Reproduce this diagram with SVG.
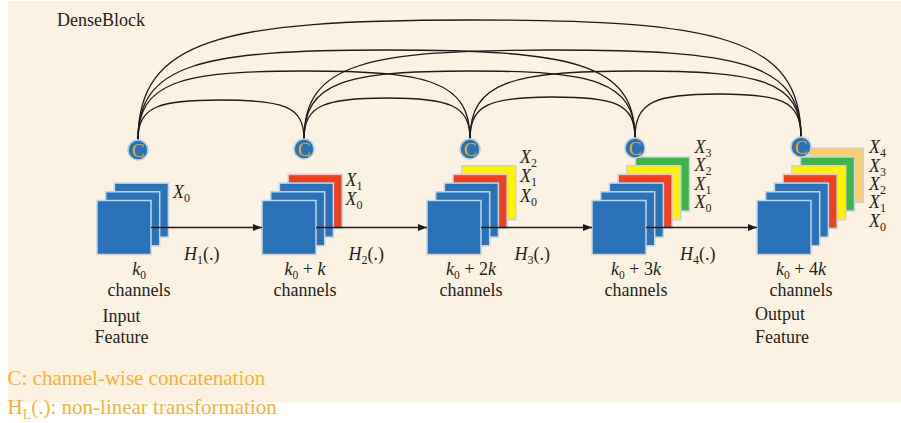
<svg xmlns="http://www.w3.org/2000/svg" width="901" height="423" viewBox="0 0 901 423">
<defs>
<style>
.bg{fill:#fcf2e4}
.sq{stroke:#c6d3e0;stroke-width:1.5}
.b{fill:#2a72b8}.r{fill:#ee4124}.y{fill:#fff200}.g{fill:#3db54a}.o{fill:#fdce6b}
.cc{fill:#2a72b8;stroke:#b9cde0;stroke-width:1.5}
.ct{font-family:"Liberation Serif",serif;font-size:19px;fill:#f2a91c;text-anchor:middle}
.t{font-family:"Liberation Serif",serif;font-size:18px;fill:#231f20}
.m{text-anchor:middle}
.i{font-style:italic}
.arc{fill:none;stroke:#1c1a1a;stroke-width:1.3}
.ln{fill:none;stroke:#1c1a1a;stroke-width:1.3}
.leg{font-family:"Liberation Serif",serif;font-size:21px;fill:#fbb034}
</style>
<marker id="ah" markerUnits="userSpaceOnUse" markerWidth="10" markerHeight="8" refX="9" refY="4" orient="auto">
<path d="M0,0.5 L9,4 L0,7.5 z" fill="#1c1a1a"/>
</marker>
</defs>
<rect class="bg" x="8" y="1" width="893" height="401.5"/>
<text class="t" x="57" y="26">DenseBlock</text>

<g id="stack1">
<rect class="sq b" x="114.4" y="183.1" width="54" height="54"/>
<rect class="sq b" x="105.7" y="191.8" width="54" height="54"/>
<rect class="sq b" x="97" y="200.5" width="54" height="54"/>
<text class="t" x="173" y="198"><tspan class="i">X</tspan><tspan font-size="12" dy="4">0</tspan></text>
<text class="t m" x="139" y="275"><tspan class="i">k</tspan><tspan font-size="11.5" dy="3.5">0</tspan></text>
<text class="t m" x="139" y="296">channels</text>
<text class="t m" x="121.5" y="322">Input</text>
<text class="t m" x="121.5" y="343">Feature</text>
</g>

<g id="stack2">
<rect class="sq r" x="288.1" y="174.4" width="54" height="54"/>
<rect class="sq b" x="279.4" y="183.1" width="54" height="54"/>
<rect class="sq b" x="270.7" y="191.8" width="54" height="54"/>
<rect class="sq b" x="262" y="200.5" width="54" height="54"/>
<text class="t" x="345.5" y="186"><tspan class="i">X</tspan><tspan font-size="12" dy="4">1</tspan></text>
<text class="t" x="345.5" y="205"><tspan class="i">X</tspan><tspan font-size="12" dy="4">0</tspan></text>
<text class="t m" x="305" y="275"><tspan class="i">k</tspan><tspan font-size="11.5" dy="3.5">0</tspan><tspan dy="-3.5"> + </tspan><tspan class="i">k</tspan></text>
<text class="t m" x="305" y="296">channels</text>
</g>

<g id="stack3">
<rect class="sq y" x="461.8" y="165.7" width="54" height="54"/>
<rect class="sq r" x="453.1" y="174.4" width="54" height="54"/>
<rect class="sq b" x="444.4" y="183.1" width="54" height="54"/>
<rect class="sq b" x="435.7" y="191.8" width="54" height="54"/>
<rect class="sq b" x="427" y="200.5" width="54" height="54"/>
<text class="t" x="520" y="163"><tspan class="i">X</tspan><tspan font-size="12" dy="4">2</tspan></text>
<text class="t" x="520" y="182"><tspan class="i">X</tspan><tspan font-size="12" dy="4">1</tspan></text>
<text class="t" x="520" y="201.5"><tspan class="i">X</tspan><tspan font-size="12" dy="4">0</tspan></text>
<text class="t m" x="471" y="275"><tspan class="i">k</tspan><tspan font-size="11.5" dy="3.5">0</tspan><tspan dy="-3.5"> + 2</tspan><tspan class="i">k</tspan></text>
<text class="t m" x="471" y="296">channels</text>
</g>

<g id="stack4">
<rect class="sq g" x="635.5" y="157" width="54" height="54"/>
<rect class="sq y" x="626.8" y="165.7" width="54" height="54"/>
<rect class="sq r" x="618.1" y="174.4" width="54" height="54"/>
<rect class="sq b" x="609.4" y="183.1" width="54" height="54"/>
<rect class="sq b" x="600.7" y="191.8" width="54" height="54"/>
<rect class="sq b" x="592" y="200.5" width="54" height="54"/>
<text class="t" x="694.5" y="153"><tspan class="i">X</tspan><tspan font-size="12" dy="4">3</tspan></text>
<text class="t" x="694.5" y="171"><tspan class="i">X</tspan><tspan font-size="12" dy="4">2</tspan></text>
<text class="t" x="694.5" y="189.5"><tspan class="i">X</tspan><tspan font-size="12" dy="4">1</tspan></text>
<text class="t" x="694.5" y="208"><tspan class="i">X</tspan><tspan font-size="12" dy="4">0</tspan></text>
<text class="t m" x="636" y="275"><tspan class="i">k</tspan><tspan font-size="11.5" dy="3.5">0</tspan><tspan dy="-3.5"> + 3</tspan><tspan class="i">k</tspan></text>
<text class="t m" x="636" y="296">channels</text>
</g>

<g id="stack5">
<rect class="sq o" x="809.2" y="148.3" width="54" height="54"/>
<rect class="sq g" x="800.5" y="157" width="54" height="54"/>
<rect class="sq y" x="791.8" y="165.7" width="54" height="54"/>
<rect class="sq r" x="783.1" y="174.4" width="54" height="54"/>
<rect class="sq b" x="774.4" y="183.1" width="54" height="54"/>
<rect class="sq b" x="765.7" y="191.8" width="54" height="54"/>
<rect class="sq b" x="757" y="200.5" width="54" height="54"/>
<text class="t" x="869" y="153"><tspan class="i">X</tspan><tspan font-size="12" dy="4">4</tspan></text>
<text class="t" x="869" y="171.5"><tspan class="i">X</tspan><tspan font-size="12" dy="4">3</tspan></text>
<text class="t" x="869" y="189.5"><tspan class="i">X</tspan><tspan font-size="12" dy="4">2</tspan></text>
<text class="t" x="869" y="208"><tspan class="i">X</tspan><tspan font-size="12" dy="4">1</tspan></text>
<text class="t" x="869" y="226.5"><tspan class="i">X</tspan><tspan font-size="12" dy="4">0</tspan></text>
<text class="t m" x="801" y="275"><tspan class="i">k</tspan><tspan font-size="11.5" dy="3.5">0</tspan><tspan dy="-3.5"> + 4</tspan><tspan class="i">k</tspan></text>
<text class="t m" x="801" y="296">channels</text>
<text class="t" x="755" y="320">Output</text>
<text class="t" x="755" y="343">Feature</text>
</g>

<g id="connectors">
<path class="arc" d="M138,140 C138,106 159,100 221,100 S304,106 304,139"/>
<path class="arc" d="M304,139 C304,105 325,98 387,98 S470,105 470,139"/>
<path class="arc" d="M470,139 C470,104 491,97 552.5,97 S635,103 635,138"/>
<path class="arc" d="M635,138 C635,101 656,94 718,94 S801,100 801,137"/>
<path class="arc" d="M138,140 C138,82 179.5,71 304,71 S470,81 470,139"/>
<path class="arc" d="M304,139 C304,82 345,71 469.5,71 S635,81 635,138"/>
<path class="arc" d="M470,139 C470,82 511,71 635.5,71 S801,80 801,137"/>
<path class="arc" d="M138,140 C138,64 200,50 386.5,50 S635,63 635,138"/>
<path class="arc" d="M304,139 C304,63 366,50 552.5,50 S801,62 801,137"/>
<path class="arc" d="M138,140 C138,39 221,20 469.5,20 S801,37 801,137"/>
<line class="ln" x1="151" y1="227.5" x2="262" y2="227.5" marker-end="url(#ah)"/>
<line class="ln" x1="316" y1="227.5" x2="427" y2="227.5" marker-end="url(#ah)"/>
<line class="ln" x1="481" y1="227.5" x2="592" y2="227.5" marker-end="url(#ah)"/>
<line class="ln" x1="646" y1="227.5" x2="757" y2="227.5" marker-end="url(#ah)"/>
<text class="t" x="184" y="260"><tspan class="i">H</tspan><tspan font-size="12" dy="4">1</tspan><tspan dy="-4">(.)</tspan></text>
<text class="t" x="348.5" y="260"><tspan class="i">H</tspan><tspan font-size="12" dy="4">2</tspan><tspan dy="-4">(.)</tspan></text>
<text class="t" x="514.5" y="260"><tspan class="i">H</tspan><tspan font-size="12" dy="4">3</tspan><tspan dy="-4">(.)</tspan></text>
<text class="t" x="680" y="260"><tspan class="i">H</tspan><tspan font-size="12" dy="4">4</tspan><tspan dy="-4">(.)</tspan></text>
</g>

<g id="concat1"><circle class="cc" cx="138" cy="150" r="10"/><text class="ct" x="138" y="156.5">C</text></g>
<g id="concat2"><circle class="cc" cx="304" cy="149" r="10"/><text class="ct" x="304" y="155.5">C</text></g>
<g id="concat3"><circle class="cc" cx="470" cy="149" r="10"/><text class="ct" x="470" y="155.5">C</text></g>
<g id="concat4"><circle class="cc" cx="635" cy="148" r="10"/><text class="ct" x="635" y="154.5">C</text></g>
<g id="concat5"><circle class="cc" cx="801" cy="147" r="10"/><text class="ct" x="801" y="153.5">C</text></g>

<g id="legend">
<text class="leg" x="7.5" y="385">C: channel-wise concatenation</text>
<text class="leg" x="7.5" y="414">H<tspan font-size="14" dy="5">L</tspan><tspan dy="-5">(.): non-linear transformation</tspan></text>
</g>
</svg>
